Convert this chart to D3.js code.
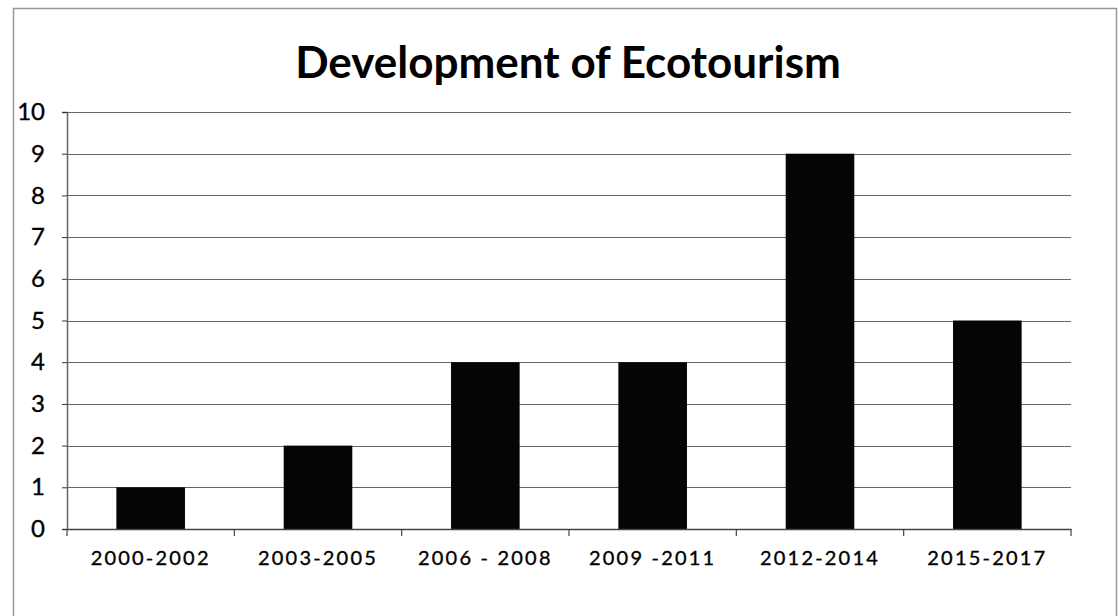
<!DOCTYPE html>
<html>
<head>
<meta charset="utf-8">
<script src="https://cdn.jsdelivr.net/npm/d3@7"></script>
<style>
  html, body { margin: 0; padding: 0; background: #fff; }
  svg { display: block; }
  .tick text { font-family: Lato, "Open Sans", sans-serif; fill: #000; stroke: #000; stroke-width: 0.35px; }
</style>
</head>
<body>
<svg id="chart" width="1118" height="616"></svg>
<script>
// Number of ecotourism developments per three-year period
const periods = ["2000-2002", "2003-2005", "2006 - 2008", "2009 -2011", "2012-2014", "2015-2017"];
const counts = [1, 2, 4, 4, 9, 5];
const yTicks = [0, 1, 2, 3, 4, 5, 6, 7, 8, 9, 10];
const title = "Development of Ecotourism";

const svg = d3.select("#chart");
const plot = { left: 67, right: 1071, top: 112, bottom: 529 };

// Outer frame
svg.append("rect")
  .attr("x", 13.5).attr("y", 8.5)
  .attr("width", 1103).attr("height", 620)
  .attr("fill", "none").attr("stroke", "#999").attr("stroke-width", 1.5);

const x = d3.scaleBand()
  .domain(periods)
  .range([plot.left, plot.right])
  .paddingInner(0.59)
  .paddingOuter(0.295);

const y = d3.scaleLinear()
  .domain([0, 10])
  .range([plot.bottom, plot.top]);

// Horizontal gridlines
svg.append("g")
  .selectAll("line")
  .data(yTicks.filter(d => d > 0))
  .join("line")
  .attr("x1", plot.left).attr("x2", plot.right)
  .attr("y1", d => Math.round(y(d)) + 0.5).attr("y2", d => Math.round(y(d)) + 0.5)
  .attr("stroke", "#666").attr("stroke-width", 1);

// Bars
svg.append("g")
  .selectAll("rect")
  .data(counts)
  .join("rect")
  .attr("x", (d, i) => x(periods[i]))
  .attr("y", d => y(d))
  .attr("width", x.bandwidth())
  .attr("height", d => y(0) - y(d))
  .attr("fill", "#050505");

// Y axis
const yAxis = svg.append("g")
  .attr("transform", `translate(${plot.left},0)`)
  .call(d3.axisLeft(y).tickValues(yTicks).tickSize(5).tickPadding(17));
yAxis.selectAll("text").attr("font-size", 24);
yAxis.selectAll("line").attr("stroke", "#333");
yAxis.select(".domain").attr("stroke", "#666").attr("stroke-width", 1.5);

// X axis with ticks at category boundaries
const xAxis = svg.append("g")
  .attr("transform", `translate(0,${plot.bottom})`)
  .call(d3.axisBottom(x).tickSize(0).tickPadding(22));
xAxis.selectAll("text")
  .attr("font-size", 20)
  .attr("letter-spacing", "2.2px");
xAxis.select(".domain").attr("stroke", "#444").attr("stroke-width", 1.5);

const step = x.step();
const bounds = d3.range(periods.length + 1).map(i => x(periods[0]) - x.paddingOuter() * step + i * step);
xAxis.append("g")
  .selectAll("line")
  .data(bounds)
  .join("line")
  .attr("x1", d => d).attr("x2", d => d)
  .attr("y1", 0).attr("y2", 7)
  .attr("stroke", "#444").attr("stroke-width", 1.2);

// Title
svg.append("text")
  .attr("x", 568).attr("y", 78)
  .attr("text-anchor", "middle")
  .attr("font-family", "Lato, 'Open Sans', sans-serif")
  .attr("font-weight", "bold")
  .attr("font-size", 44)
  .attr("fill", "#000")
  .text(title);
</script>
</body>
</html>
